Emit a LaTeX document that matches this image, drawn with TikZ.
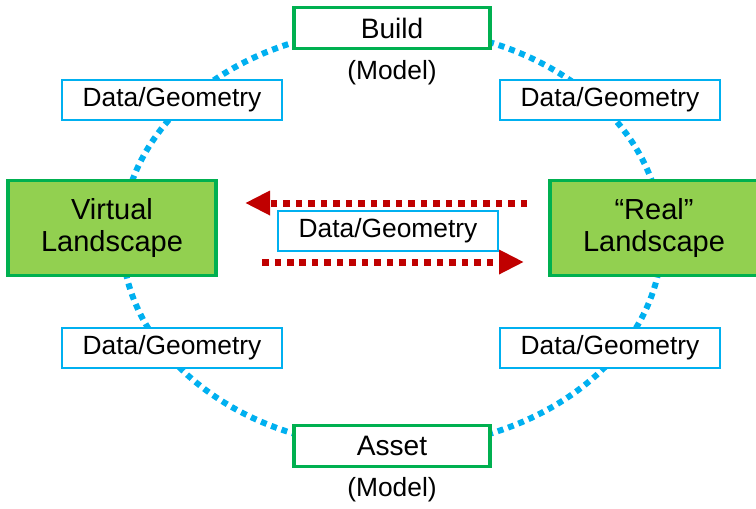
\documentclass[tikz,border=0pt]{standalone}
\usepackage{fontspec}
\setmainfont{Liberation Sans}
\usetikzlibrary{arrows.meta}
\definecolor{boxgreen}{HTML}{00B050}
\definecolor{landgreen}{HTML}{92D050}
\definecolor{ringblue}{HTML}{00B0F0}
\definecolor{flowred}{HTML}{C00000}
\begin{document}
\begin{tikzpicture}[x=0.02cm, y=-0.02cm,
        model/.style={draw=boxgreen, line width=2.2pt, fill=white, rectangle, minimum width=3.92cm, minimum height=0.82cm, font=\fontsize{16}{19}\selectfont},
        land/.style={draw=boxgreen, line width=2.2pt, fill=landgreen, rectangle, minimum width=4.16cm, minimum height=1.9cm, align=center, font=\fontsize{16.5}{18.7}\selectfont},
        geo/.style={draw=ringblue, line width=0.8pt, fill=white, rectangle, minimum width=4.4cm, minimum height=0.8cm, font=\fontsize{15}{18}\selectfont},
        note/.style={font=\fontsize{15}{18}\selectfont},
        flow/.style={flowred, line width=0.14cm, dash pattern=on 0.13cm off 0.12cm, -{Triangle[length=0.5cm, width=0.46cm]}}
    ]
    \useasboundingbox (0,0) rectangle (756,508);

    % Dotted ring behind everything
    \draw[ringblue, line width=0.12cm, dash pattern=on 0.12cm off 0.1cm] (392,238) ellipse [x radius=5.4cm, y radius=4.2cm];

    % Models on the ring
    \node[model] (build) at (392, 28) {Build};
    \node[note] (buildnote) at (392, 73) {(Model)};
    \node[model] (asset) at (392, 446) {Asset};
    \node[note] (assetnote) at (392, 490) {(Model)};

    % Landscapes
    \node[land] (virtual) at (112, 228) {Virtual\\Landscape};
    \node[land] (real) at (654, 228) {“Real”\\Landscape};

    % Data boxes on the ring
    \node[geo] (geotl) at (172, 100) {Data/Geometry};
    \node[geo] (geotr) at (610, 100) {Data/Geometry};
    \node[geo] (geobl) at (172, 348) {Data/Geometry};
    \node[geo] (geobr) at (610, 348) {Data/Geometry};

    % Exchange between the landscapes
    \coordinate (leftin) at (245, 203);
    \coordinate (leftout) at (262, 262);
    \coordinate (rightout) at (527, 203);
    \coordinate (rightin) at (524, 262);
    \draw[flow] (rightout) -- (leftin);
    \draw[flow] (leftout) -- (rightin);
    \node[geo] (geomid) at (388, 231) {Data/Geometry};

\end{tikzpicture}
\end{document}
